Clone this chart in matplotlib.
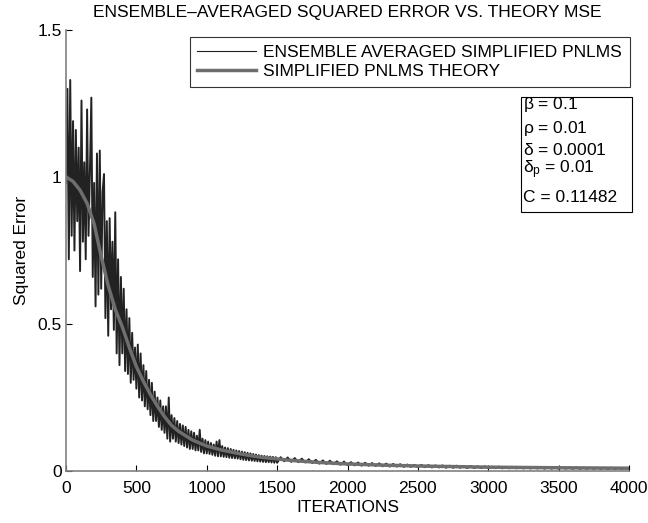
import numpy as np
import matplotlib
matplotlib.use("Agg")
import matplotlib.pyplot as plt
from matplotlib.patches import Rectangle
from matplotlib.lines import Line2D

plt.rcParams['font.family'] = ['Liberation Sans', 'DejaVu Sans']
plt.rcParams['mathtext.fontset'] = 'custom'
plt.rcParams['mathtext.rm'] = 'Liberation Sans'
plt.rcParams['mathtext.it'] = 'Liberation Sans'

# ---- data ----
theory_iter = [0, 50, 100, 150, 200, 250, 300, 350, 400, 450, 500, 550, 600, 650, 700,
               750, 800, 850, 900, 950, 1000, 1100, 1200, 1300, 1400, 1500, 1600, 1800,
               2000, 2250, 2500, 2750, 3000, 3500, 4000]
theory_mse = [1.00, 0.985, 0.955, 0.91, 0.84, 0.73, 0.63, 0.55, 0.49, 0.42, 0.355, 0.305,
              0.26, 0.22, 0.185, 0.155, 0.135, 0.12, 0.105, 0.095, 0.085, 0.072, 0.062,
              0.053, 0.046, 0.041, 0.036, 0.029, 0.024, 0.020, 0.017, 0.015, 0.013, 0.011,
              0.0095]

ens_iter_early = list(range(0, 1501, 10))
ens_err_early = [
    0.98, 1.30, 0.72, 1.33, 0.80, 1.19, 0.75, 1.16, 0.85, 1.10,
    0.68, 1.26, 0.78, 1.05, 0.72, 1.23, 0.80, 1.02, 1.27, 0.66,
    0.98, 0.56, 1.08, 0.60, 1.09, 0.62, 0.95, 1.01, 0.52, 0.85,
    0.46, 0.86, 0.55, 0.78, 0.48, 0.88, 0.40, 0.72, 0.36, 0.66,
    0.40, 0.62, 0.34, 0.55, 0.33, 0.52, 0.30, 0.47, 0.31, 0.42,
    0.28, 0.43, 0.25, 0.40, 0.24, 0.36, 0.22, 0.34, 0.21, 0.31,
    0.19, 0.30, 0.17, 0.27, 0.17, 0.25, 0.15, 0.24, 0.14, 0.22,
    0.13, 0.22, 0.11, 0.25, 0.10, 0.19, 0.11, 0.18, 0.10, 0.17,
    0.095, 0.16, 0.09, 0.155, 0.085, 0.15, 0.08, 0.14, 0.075, 0.135,
    0.075, 0.13, 0.07, 0.12, 0.07, 0.14, 0.065, 0.11, 0.06, 0.105,
    0.06, 0.10, 0.058, 0.095, 0.055, 0.09, 0.052, 0.10, 0.05, 0.105,
    0.05, 0.085, 0.048, 0.08, 0.047, 0.078, 0.045, 0.075, 0.044, 0.072,
    0.043, 0.07, 0.042, 0.068, 0.04, 0.066, 0.038, 0.064, 0.037, 0.062,
    0.036, 0.06, 0.035, 0.058, 0.034, 0.056, 0.033, 0.054, 0.032, 0.052,
    0.031, 0.051, 0.030, 0.05, 0.030, 0.049, 0.029, 0.048, 0.028, 0.047,
    0.028]
ens_iter_late = list(range(1525, 4001, 25))
ens_err_late = [
    0.047, 0.033, 0.046, 0.031, 0.044, 0.030, 0.042, 0.029, 0.040, 0.027,
    0.038, 0.025, 0.036, 0.024, 0.035, 0.023, 0.033, 0.021, 0.032, 0.020,
    0.030, 0.019, 0.029, 0.018, 0.028, 0.018, 0.027, 0.017, 0.026, 0.016,
    0.025, 0.015, 0.024, 0.015, 0.023, 0.014, 0.022, 0.014, 0.021, 0.013,
    0.021, 0.013, 0.020, 0.012, 0.019, 0.012, 0.019, 0.011, 0.018, 0.011,
    0.018, 0.011, 0.017, 0.010, 0.017, 0.010, 0.016, 0.010, 0.016, 0.0095,
    0.015, 0.0095, 0.015, 0.009, 0.014, 0.009, 0.014, 0.009, 0.014, 0.0085,
    0.013, 0.0085, 0.013, 0.0085, 0.013, 0.008, 0.013, 0.008, 0.012, 0.008,
    0.012, 0.008, 0.012, 0.0075, 0.012, 0.0075, 0.011, 0.0075, 0.011, 0.0075,
    0.011, 0.007, 0.011, 0.007, 0.011, 0.007, 0.0105, 0.007, 0.0105, 0.007]

x_ticks = [0, 500, 1000, 1500, 2000, 2500, 3000, 3500, 4000]
y_ticks = [0, 0.5, 1, 1.5]
y_tick_labels = ['0', '0.5', '1', '1.5']
legend_labels = ['ENSEMBLE AVERAGED SIMPLIFIED PNLMS', 'SIMPLIFIED PNLMS THEORY']
param_lines = [r'$\mathregular{\beta}$ = 0.1', r'$\mathregular{\rho}$ = 0.01',
               r'$\mathregular{\delta}$ = 0.0001', r'$\mathregular{\delta_p}$ = 0.01',
               'C = 0.11482']

FS = 12.5
W, H = 648, 523
ENS_C, TH_C = '#222222', '#6e6e6e'
fig = plt.figure(figsize=(W / 100, H / 100), dpi=100)
ax = fig.add_axes([66 / W, 1 - 471 / H, (629 - 66) / W, (471 - 30) / H])

ens_iter = ens_iter_early + ens_iter_late
ens_err = ens_err_early + ens_err_late
ax.plot(ens_iter, ens_err, color=ENS_C, lw=1.4)
ax.plot(theory_iter, theory_mse, color=TH_C, lw=2.5)

ax.set_xlim(0, 4000)
ax.set_ylim(0, 1.5)
ax.set_xticks(x_ticks)
ax.set_yticks(y_ticks)
ax.set_yticklabels(y_tick_labels)
for s in ['top', 'right']:
    ax.spines[s].set_visible(False)
for s in ['left', 'bottom']:
    ax.spines[s].set_color('#808080')
    ax.spines[s].set_linewidth(1.2)
ax.tick_params(direction='in', length=4, width=0.8, colors='black', labelsize=FS)
ax.tick_params(axis='x', pad=7)
ax.tick_params(axis='y', pad=3)

ax.set_title('ENSEMBLE\u2013AVERAGED SQUARED ERROR VS. THEORY MSE', fontsize=FS, pad=9)
ax.set_xlabel('ITERATIONS', fontsize=FS, labelpad=3)
ax.set_ylabel('Squared Error', fontsize=FS, labelpad=6)

handles = [Line2D([], [], color=ENS_C, lw=0.8), Line2D([], [], color=TH_C, lw=2.5)]
leg = ax.legend(handles, legend_labels, loc='upper right',
                bbox_to_anchor=(630 / W, 1 - 37 / H),
                bbox_transform=fig.transFigure, fontsize=FS, frameon=True,
                fancybox=False, handlelength=3.4, borderpad=0.45, labelspacing=0.25,
                handletextpad=0.4, borderaxespad=0)
leg.get_frame().set_edgecolor('black')
leg.get_frame().set_linewidth(0.8)

# parameter box
fig.patches.append(Rectangle((521 / W, 1 - 212 / H), (632 - 521) / W, (212 - 97) / H,
                             transform=fig.transFigure, fill=False, edgecolor='black', lw=0.8))
ys = [105, 128, 150, 170, 197]
for t, yy in zip(param_lines, ys):
    fig.text(523 / W, 1 - yy / H, t, fontsize=FS, va='center', ha='left')

fig.savefig('out.png', dpi=100)
